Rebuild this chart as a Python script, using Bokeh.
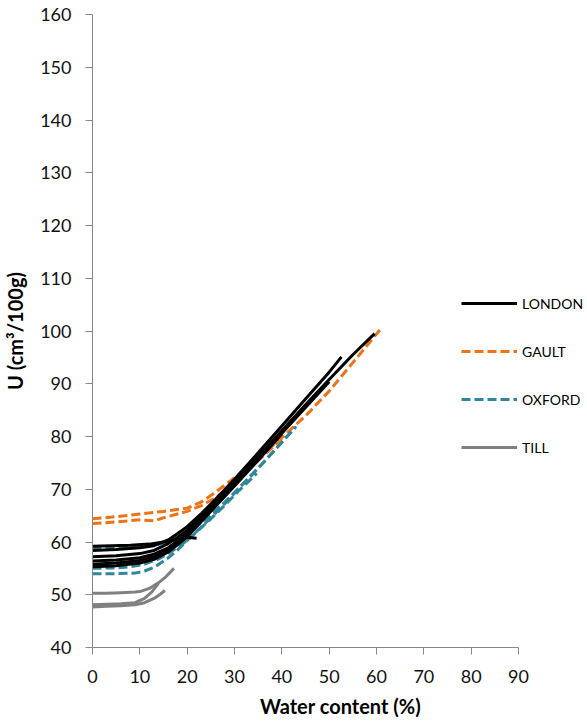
from bokeh.plotting import figure
from bokeh.models import Range1d, FixedTicker, Legend, LegendItem
from bokeh.embed import file_html
from bokeh.resources import INLINE

# ---- data (water content %, U cm3/100g) ----
london_1_x = [0, 4, 8, 12, 15, 18, 20, 22]
london_1_y = [59.2, 59.3, 59.4, 59.6, 60.0, 60.5, 60.9, 60.7]
london_2_x = [0, 5, 10, 13, 16, 18, 20, 23, 26, 30, 35, 40, 45, 50, 52.6]
london_2_y = [58.4, 58.6, 58.9, 59.3, 60.4, 61.6, 62.9, 65.4, 68.1, 71.9, 76.9, 82.0, 87.1, 92.2, 95.1]
london_3_x = [0, 5, 10, 13, 16, 18, 20, 23, 26, 30, 35, 40, 45, 50, 55, 59.6]
london_3_y = [57.2, 57.4, 57.8, 58.4, 59.7, 60.9, 62.2, 64.8, 67.6, 71.3, 76.2, 81.1, 86.0, 90.8, 95.5, 99.5]
london_4_x = [0, 5, 10, 13, 16, 18, 20, 23, 26, 30, 35, 40, 45, 48]
london_4_y = [56.4, 56.6, 57.0, 57.7, 58.9, 60.2, 61.6, 64.4, 67.2, 71.0, 75.9, 80.9, 85.8, 88.8]
london_5_x = [0, 5, 10, 13, 16, 18, 20, 23, 26, 30, 35, 40, 45, 50]
london_5_y = [55.8, 56.0, 56.5, 57.2, 58.5, 59.8, 61.2, 64.0, 66.9, 70.7, 75.7, 80.6, 85.5, 90.4]
london_6_x = [0, 5, 10, 13, 16, 18, 20, 23, 26, 30, 35, 40]
london_6_y = [55.3, 55.5, 56.0, 56.7, 58.1, 59.5, 61.0, 63.9, 66.8, 70.6, 75.5, 80.5]

gault_1_x = [0, 5, 10, 15, 20, 23, 25, 28, 30, 35, 40, 45, 50, 55, 60.7]
gault_1_y = [64.4, 64.8, 65.3, 65.8, 66.4, 67.6, 68.8, 70.8, 72.2, 75.9, 79.8, 83.9, 88.6, 94.0, 100.2]
gault_2_x = [0, 5, 10, 13, 15, 20, 23, 26, 28, 30, 35, 40]
gault_2_y = [63.5, 63.8, 64.2, 64.0, 64.6, 65.8, 66.9, 68.4, 69.8, 71.3, 75.4, 79.6]

oxford_1_x = [0, 5, 10, 13, 16, 18, 20, 22, 25, 28, 31, 35, 39, 42.8]
oxford_1_y = [58.8, 58.9, 59.1, 59.4, 60.0, 60.8, 61.8, 63.0, 65.2, 67.6, 70.3, 74.0, 77.9, 81.7]
oxford_2_x = [0, 5, 8, 11, 14, 16, 18, 20, 22, 25, 28, 31, 34.7]
oxford_2_y = [55.0, 55.1, 55.3, 55.8, 56.8, 57.8, 59.0, 60.3, 61.9, 64.4, 67.0, 69.8, 73.0]
oxford_3_x = [0, 5, 9, 11, 13, 14, 16, 18, 20, 22, 25, 28, 31, 35, 40, 43]
oxford_3_y = [54.0, 54.0, 54.1, 54.5, 55.2, 55.8, 57.0, 58.5, 60.3, 62.0, 64.6, 67.3, 70.2, 74.0, 78.9, 81.9]

till_1_x = [0, 3, 6, 9, 10, 12, 14, 15.5, 17.2]
till_1_y = [50.3, 50.3, 50.4, 50.5, 50.6, 51.2, 52.3, 53.4, 55.0]
till_2_x = [0, 3, 6, 9, 11, 12.5, 13.9]
till_2_y = [48.1, 48.2, 48.3, 48.5, 49.3, 50.5, 52.1]
till_3_x = [0, 3, 6, 9, 11, 13, 14.3, 15.3]
till_3_y = [47.7, 47.8, 47.9, 48.1, 48.5, 49.3, 50.1, 50.8]

x_ticks = [0, 10, 20, 30, 40, 50, 60, 70, 80, 90]
y_ticks = [40, 50, 60, 70, 80, 90, 100, 110, 120, 130, 140, 150, 160]
series_names = ["LONDON", "GAULT", "OXFORD", "TILL"]

FONT = "Lato"
AXIS_GREY = "#878787"
C_LONDON = "#000000"
C_GAULT = "#ec7317"
C_OXFORD = "#31869b"
C_TILL = "#808080"

FRAME_W = 496   # frame reaches past x=90 so the legend (partly outside the axis) is not clipped
AXIS_W = 426    # pixel width of the 0..90 axis
x_end = 90 * FRAME_W / AXIS_W

p = figure(width=587, height=720, output_backend="svg", toolbar_location=None,
           x_range=Range1d(0, x_end), y_range=Range1d(40, 160),
           min_border_left=91, min_border_right=0, min_border_top=14, min_border_bottom=73,
           frame_width=FRAME_W, frame_height=633)
p.outline_line_color = None
p.xgrid.visible = False
p.ygrid.visible = False
p.background_fill_color = "white"
p.border_fill_color = "white"

def style_axis(ax):
    ax.axis_line_color = AXIS_GREY
    ax.axis_line_width = 1
    ax.major_tick_line_color = AXIS_GREY
    ax.major_tick_in = 0
    ax.major_tick_out = 7
    ax.minor_tick_line_color = None
    ax.major_label_text_font = FONT
    ax.major_label_text_font_size = "18px"
    ax.major_label_text_color = "#111111"
    ax.axis_label_text_font = FONT
    ax.axis_label_text_font_size = "20px"
    ax.axis_label_text_font_style = "bold"
    ax.axis_label_text_color = "#000000"

p.xaxis.ticker = FixedTicker(ticks=x_ticks)
p.yaxis.ticker = FixedTicker(ticks=y_ticks)
style_axis(p.xaxis[0])
style_axis(p.yaxis[0])
p.xaxis.bounds = (0, 90)
p.xaxis.axis_label = "Water content (%)"
p.yaxis.axis_label = "U (cm³/100g)"
p.xaxis.major_label_standoff = 15
p.xaxis.axis_label_standoff = 8
p.yaxis.major_label_standoff = 14
p.yaxis.axis_label_standoff = 10

LW = 3
DASH = "9 4"
london = [(london_1_x, london_1_y), (london_2_x, london_2_y), (london_3_x, london_3_y),
          (london_4_x, london_4_y), (london_5_x, london_5_y), (london_6_x, london_6_y)]
gault = [(gault_1_x, gault_1_y), (gault_2_x, gault_2_y)]
oxford = [(oxford_1_x, oxford_1_y), (oxford_2_x, oxford_2_y), (oxford_3_x, oxford_3_y)]
till = [(till_1_x, till_1_y), (till_2_x, till_2_y), (till_3_x, till_3_y)]

r_till = [p.line(x, y, line_color=C_TILL, line_width=LW) for x, y in till]
r_gault = [p.line(x, y, line_color=C_GAULT, line_width=LW, line_dash=DASH) for x, y in gault]
r_oxford = [p.line(x, y, line_color=C_OXFORD, line_width=LW, line_dash=DASH) for x, y in oxford]
r_london = [p.line(x, y, line_color=C_LONDON, line_width=LW) for x, y in london]

legend = Legend(items=[
    LegendItem(label=series_names[0], renderers=[r_london[0]]),
    LegendItem(label=series_names[1], renderers=[r_gault[0]]),
    LegendItem(label=series_names[2], renderers=[r_oxford[0]]),
    LegendItem(label=series_names[3], renderers=[r_till[0]]),
], location=(369, 190))
legend.padding = 0
legend.margin = 0
legend.spacing = 28
legend.glyph_width = 56
legend.glyph_height = 20
legend.label_height = 20
legend.label_standoff = 5
legend.label_text_font = FONT
legend.label_text_font_size = "14px"
legend.label_text_color = "#000000"
legend.border_line_color = None
legend.background_fill_alpha = 0
p.add_layout(legend, "center")

open("out.html", "w").write(file_html(p, INLINE))
